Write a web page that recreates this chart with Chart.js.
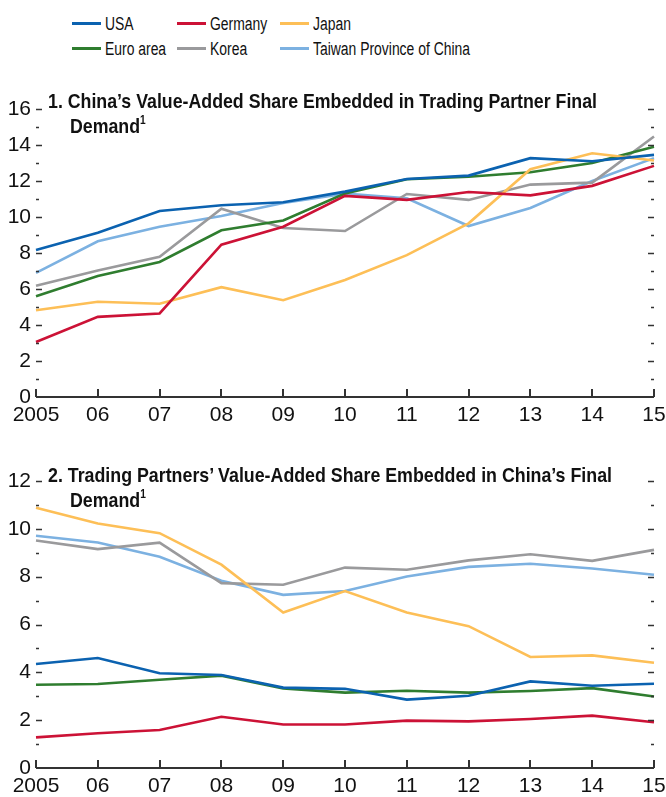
<!DOCTYPE html>
<html>
<head>
<meta charset="utf-8">
<script src="https://cdn.jsdelivr.net/npm/chart.js@4/dist/chart.umd.min.js"></script>
<style>
  body { margin: 0; background: #fff; font-family: "Liberation Sans", Arial, sans-serif; }
  #page { position: relative; width: 666px; height: 797px; overflow: hidden; }
  .box { position: absolute; left: 0; width: 666px; height: 362px; }
  .title { position: absolute; left: 48px; font-weight: bold; font-size: 21px; line-height: 25px; color: #111; white-space: nowrap; }
  .title span { display: inline-block; transform-origin: 0 50%; }
  .title .l2 { margin-left: 22px; }
  .title sup { font-size: 12px; vertical-align: 9px; line-height: 0; }
  .leg { position: absolute; font-size: 18px; line-height: 24px; color: #111; white-space: nowrap; }
  .leg .sw { position: absolute; left: 0; top: 10px; height: 3px; width: 29px; }
  .leg .tx { display: inline-block; transform-origin: 0 50%; }
</style>
</head>
<body>
<div id="page">
  <div id="legend"></div>
  <div class="box" style="top:70px"><canvas id="chart1" width="666" height="362"></canvas></div>
  <div class="box" style="top:435px"><canvas id="chart2" width="666" height="362"></canvas></div>
  <div class="title" style="top:88px" data-w="549"><span class="l1">1. China’s Value-Added Share Embedded in Trading Partner Final</span><br><span class="l2">Demand<sup>1</sup></span></div>
  <div class="title" style="top:462px" data-w="564"><span class="l1">2. Trading Partners’ Value-Added Share Embedded in China’s Final</span><br><span class="l2">Demand<sup>1</sup></span></div>
</div>
<script>
var years = ["2005", "06", "07", "08", "09", "10", "11", "12", "13", "14", "15"];
var names = ["USA", "Germany", "Japan", "Euro area", "Korea", "Taiwan Province of China"];
var colors = ["#0b62b0", "#cc1236", "#fdbf57", "#2f7d2f", "#9a9a9c", "#7cb1e1"];

// panel 1: China's value added in partner final demand
var usa1    = [8.16, 9.13, 10.33, 10.65, 10.82, 11.41, 12.11, 12.3, 13.27, 13.1, 13.45];
var germany1 = [3.06, 4.45, 4.64, 8.46, 9.46, 11.17, 10.95, 11.39, 11.2, 11.73, 12.84];
var japan1  = [4.82, 5.29, 5.18, 6.1, 5.38, 6.5, 7.88, 9.65, 12.65, 13.54, 13.14];
var euro1   = [5.6, 6.72, 7.5, 9.26, 9.81, 11.3, 12.1, 12.24, 12.49, 13.0, 13.9];
var korea1  = [6.18, 7.03, 7.79, 10.46, 9.39, 9.22, 11.28, 10.95, 11.8, 11.91, 14.47];
var taiwan1 = [6.9, 8.65, 9.46, 10.06, 10.78, 11.3, 11.04, 9.5, 10.5, 12.0, 13.27];

// panel 2: partners' value added in China's final demand
var usa2    = [4.35, 4.6, 3.96, 3.89, 3.36, 3.31, 2.86, 3.02, 3.62, 3.44, 3.52];
var germany2 = [1.28, 1.45, 1.59, 2.14, 1.82, 1.82, 1.98, 1.95, 2.05, 2.19, 1.91];
var japan2  = [10.88, 10.22, 9.82, 8.5, 6.5, 7.4, 6.5, 5.93, 4.64, 4.71, 4.4];
var euro2   = [3.48, 3.51, 3.69, 3.86, 3.33, 3.15, 3.23, 3.15, 3.22, 3.34, 2.99];
var korea2  = [9.51, 9.15, 9.42, 7.73, 7.66, 8.38, 8.29, 8.68, 8.94, 8.66, 9.12];
var taiwan2 = [9.71, 9.43, 8.83, 7.83, 7.24, 7.4, 8.01, 8.41, 8.54, 8.34, 8.08];

// legend (html, three columns)
var legX = [72, 177, 280];
var legHtml = "";
names.forEach(function (n, i) {
  var col = i % 3, row = Math.floor(i / 3);
  legHtml += '<div class="leg" style="left:' + legX[col] + 'px;top:' + (12 + row * 25) + 'px;padding-left:33px">' +
    '<span class="sw" style="background:' + colors[i] + '"></span><span class="tx">' + n + '</span></div>';
});
document.getElementById("legend").innerHTML = legHtml;

// squeeze text horizontally to mimic a condensed face
var legTx = document.querySelectorAll(".leg .tx");
var legScale = 157 / legTx[5].getBoundingClientRect().width;
legTx.forEach(function (el) { el.style.transform = "scaleX(" + legScale + ")"; });
document.querySelectorAll(".title").forEach(function (t) {
  var l1 = t.querySelector(".l1"), l2 = t.querySelector(".l2");
  var k = (+t.dataset.w) / l1.getBoundingClientRect().width;
  l1.style.transform = "scaleX(" + k + ")";
  l2.style.transform = "scaleX(" + k + ")";
});

var tickMarks = {
  id: "tickMarks",
  afterDraw: function (chart) {
    var ctx = chart.ctx, a = chart.chartArea, y = chart.scales.y, x = chart.scales.x;
    ctx.save();
    ctx.strokeStyle = "#333";
    ctx.lineWidth = 1.5;
    ctx.beginPath();
    for (var v = y.min + 1; v <= y.max; v++) {
      var py = Math.round(y.getPixelForValue(v)) + 0.5;
      var len = v % 2 === 0 ? 6 : 3;
      ctx.moveTo(a.left, py); ctx.lineTo(a.left + len, py);
      ctx.moveTo(a.right - len, py); ctx.lineTo(a.right, py);
    }
    ctx.stroke();
    ctx.lineWidth = 2;
    ctx.beginPath();
    for (var i = 0; i < years.length; i++) {
      var px = Math.round(x.getPixelForValue(i));
      ctx.moveTo(px, a.bottom); ctx.lineTo(px, a.bottom - 8);
    }
    ctx.moveTo(a.left, a.bottom); ctx.lineTo(a.right, a.bottom);
    ctx.stroke();
    ctx.restore();
  }
};

var tickFont = { family: "'Liberation Sans', Arial, sans-serif", size: 21 };

function makeChart(id, series, ymax, topPad, xHeight) {
  var datasets = series.map(function (d, i) {
    return {
      label: names[i],
      data: d,
      borderColor: colors[i],
      backgroundColor: colors[i],
      borderWidth: 2.6,
      pointRadius: 0,
      tension: 0,
      fill: false
    };
  });
  return new Chart(document.getElementById(id), {
    type: "line",
    data: { labels: years, datasets: datasets },
    plugins: [tickMarks],
    options: {
      responsive: false,
      animation: false,
      layout: { padding: { top: topPad, right: 12, left: 0, bottom: 0 } },
      plugins: { legend: { display: false }, tooltip: { enabled: false } },
      scales: {
        x: {
          offset: false,
          grid: { display: false, drawTicks: false },
          border: { display: false },
          ticks: { color: "#111", padding: 6, maxRotation: 0, autoSkip: false, font: tickFont },
          afterFit: function (s) { s.height = xHeight; s.paddingLeft = 0; s.paddingRight = 0; }
        },
        y: {
          min: 0, max: ymax,
          grid: { display: false, drawTicks: false },
          border: { display: false },
          ticks: {
            stepSize: 1, color: "#111", padding: 5, font: tickFont,
            callback: function (v) { return v % 2 === 0 ? v : ""; }
          },
          afterFit: function (s) { s.width = 36; }
        }
      }
    }
  });
}

makeChart("chart1", [usa1, germany1, japan1, euro1, korea1, taiwan1], 16, 39, 35);
makeChart("chart2", [usa2, germany2, japan2, euro2, korea2, taiwan2], 12, 46, 29);
</script>
</body>
</html>
